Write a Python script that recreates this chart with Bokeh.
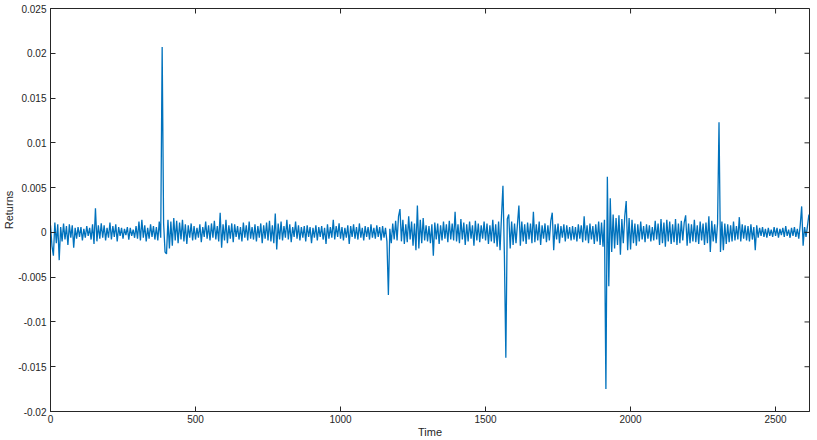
import math
from bokeh.plotting import figure
from bokeh.models import FixedTicker, Range1d
from bokeh.embed import file_html
from bokeh.resources import INLINE

# Returns, in units of 1e-4, sampled every 5 time steps (each row = 100 steps)
returns_e4 = [
    8, -15, -26, 11, -12, 9, -31, 6, -10, 10, -8, 7, -14, 9, -6, 8, -17, 5, -7, 6,
    -5, 6, -9, 4, -6, 7, -4, 5, -8, 9, -13, 27, -10, 8, -7, 10, -6, 8, -9, 5,
    -6, 11, -8, 7, -5, 9, -10, 6, -4, 5, -7, 4, -3, 6, -8, 5, -4, 3, -6, 7,
    -7, 12, -9, 14, -6, 8, -10, 5, -7, 9, -5, 7, -8, 6, -9, 12, -6, 207, 10, -22,
    -24, 14, -18, 12, -15, 16, -9, 13, -12, 11, -8, 14, -10, 9, -13, 8, -6, 10, -9, 7,
    -8, 5, -6, 9, -11, 6, -5, 12, -7, 8, -9, 10, -6, 13, -8, 7, -10, 22, -17, 9,
    -9, 14, -12, 8, -7, 10, -11, 9, -5, 7, -8, 6, -10, 11, -6, 8, -9, 12, -7, 6,
    -8, 9, -10, 7, -6, 10, -12, 8, -7, 11, -9, 13, -10, 8, -12, 21, -19, 10, -8, 12,
    -9, 7, -6, 14, -8, 9, -11, 6, -5, 12, -7, 8, -9, 6, -6, 7, -10, 8, -5, 6,
    -12, 5, -6, 8, -9, 6, -5, 7, -8, 5, -13, 9, -7, 6, -6, 14, -8, 7, -5, 10,
    -7, 6, -9, 5, -6, 8, -13, 7, -5, 9, -7, 6, -8, 10, -6, 5, -9, 7, -5, 6,
    -8, 9, -6, 5, -7, 8, -5, 6, -9, 7, -6, 5, -10, -70, 4, -12, 10, -8, 13, -9,
    18, 26, -10, 14, -13, 9, -11, 18, -8, 12, -15, 10, -20, 30, -18, 14, -12, 16, -9, 8,
    -10, 7, -12, 9, -26, 11, -8, 10, -13, 8, -9, 12, -7, 9, -11, 13, -8, 10, -9, 23,
    -10, 9, -12, 15, -8, 11, -14, 9, -10, 12, -7, 8, -15, 13, -9, 10, -11, 8, -7, 12,
    -9, 10, -13, 8, -10, 14, -12, 9, -16, 12, -20, 18, 52, -25, -140, 15, 20, -18, 12, -14,
    10, -12, 9, 30, -15, 12, -10, 9, -13, 11, -8, 10, -12, 23, -11, 9, -9, 12, -14, 8,
    -7, 10, -11, 8, -9, 13, 22, -20, 9, -8, 10, -12, 7, -6, 9, -10, 8, -7, 6, -9,
    7, -8, 6, -10, 9, -7, 8, -11, 18, -9, 8, -12, 10, -8, 7, -13, 9, -10, 12, -14,
    11, -16, 14, -175, 62, -60, 38, -22, 20, -18, 16, -14, 19, -25, 15, -12, 18, 35, -20, 16,
    -19, 14, -12, 10, -15, 9, -10, 12, -8, 7, -11, 9, -7, 8, -10, 6, -9, 13, -8, 10,
    -14, 15, -12, 11, -16, 14, -10, 12, -13, 9, -11, 15, -14, 10, -12, 13, -9, 11, 19, -15,
    10, -12, 9, -10, 14, -11, 8, -13, 12, -9, 10, -14, 11, -12, 18, -22, 13, -10, 9, -12,
    10, 123, -22, 12, -20, 10, -13, 9, -11, 8, -10, 12, -9, 7, -8, 17, -10, 9, -7, 8,
    -9, 7, -10, 9, -8, 6, -20, 8, -6, 5, -4, 6, -5, 4, -6, 5, -4, 3, -5, 6,
    -4, 5, -6, 4, -3, 5, -5, 7, -4, 3, -6, 5, -4, 6, -5, 4, -7, 8, 29, -15,
    6, -5, 7, 20,
]
step = 5
x_start, x_end = 0, 2617
y_start, y_end = -0.02, 0.025

x_ticks = [0, 500, 1000, 1500, 2000, 2500]
x_labels = ["0", "500", "1000", "1500", "2000", "2500"]
y_ticks = [-0.02, -0.015, -0.01, -0.005, 0.0, 0.005, 0.01, 0.015, 0.02, 0.025]
y_labels = ["-0.02", "-0.015", "-0.01", "-0.005", "0", "0.005", "0.01", "0.015", "0.02", "0.025"]

time = [step * i for i in range(len(returns_e4))]
returns = [v * 1e-4 for v in returns_e4]

AX = "#262626"
FONT = "Liberation Sans"

p = figure(width=817, height=440, output_backend="svg", toolbar_location=None,
           x_range=Range1d(x_start, x_end), y_range=Range1d(y_start, y_end),
           min_border_left=50, min_border_right=8, min_border_top=8, min_border_bottom=27)
p.grid.visible = False
p.outline_line_color = AX
p.outline_line_width = 1
p.background_fill_color = "white"
p.border_fill_color = "white"

p.line(time, returns, line_color="#0072BD", line_width=1.3)

# mirrored inward ticks on the top and right edges (clipped to the frame)
p.scatter(x=x_ticks, y=[y_end] * len(x_ticks), marker="dash", angle=math.pi / 2,
          size=10, line_color=AX, line_width=1)
p.scatter(x=[x_end] * len(y_ticks), y=y_ticks, marker="dash",
          size=10, line_color=AX, line_width=1)

def style(ax):
    ax.axis_line_color = AX
    ax.major_tick_line_color = AX
    ax.major_tick_in = 5
    ax.major_tick_out = 0
    ax.minor_tick_line_color = None
    ax.major_label_text_font = FONT
    ax.major_label_text_color = AX
    ax.major_label_text_font_size = "10px"
    ax.axis_label_text_font = FONT
    ax.axis_label_text_font_style = "normal"
    ax.axis_label_text_font_size = "11px"
    ax.axis_label_text_color = AX

xa = p.xaxis[0]
xa.ticker = FixedTicker(ticks=x_ticks)
xa.major_label_overrides = dict(zip(x_ticks, x_labels))
xa.axis_label = "Time"
xa.major_label_standoff = 3
xa.axis_label_standoff = 0
style(xa)

ya = p.yaxis[0]
ya.ticker = FixedTicker(ticks=y_ticks)
ya.major_label_overrides = dict(zip(y_ticks, y_labels))
ya.axis_label = "Returns"
ya.major_label_standoff = 4
ya.axis_label_standoff = 0
style(ya)

open("out.html", "w").write(file_html(p, INLINE))
